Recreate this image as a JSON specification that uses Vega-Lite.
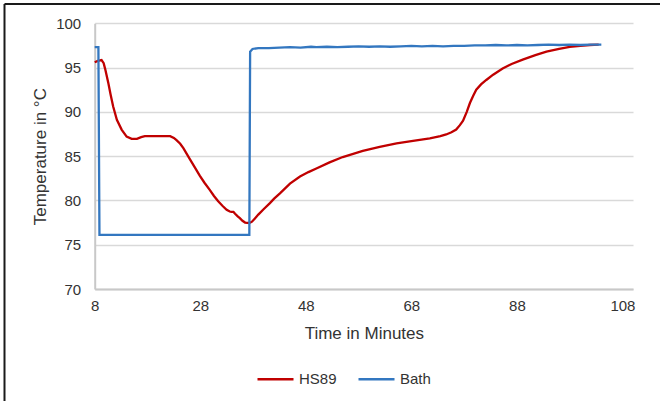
{
  "$schema": "https://vega.github.io/schema/vega-lite/v6.json",
  "width": 655.5,
  "height": 397,
  "autosize": {"type": "none"},
  "padding": {"left": 4.5, "top": 4, "right": 0, "bottom": 0},
  "config": {
    "font": "Liberation Sans",
    "view": {"stroke": "#1a1a1a", "strokeWidth": 2, "strokeDash": [655.5, 1052.5, 397, 0], "fill": "white"},
    "axis": {"labelFont": "Liberation Sans", "titleFont": "Liberation Sans", "labelColor": "#333333", "titleColor": "#333333", "titleFontWeight": "normal"}
  },
  "datasets": {
    "temps": [
      {"t": 8, "T": 95.6, "s": "HS89"},
      {"t": 8.6, "T": 95.75, "s": "HS89"},
      {"t": 9.3, "T": 95.85, "s": "HS89"},
      {"t": 9.7, "T": 95.5, "s": "HS89"},
      {"t": 10.0, "T": 94.8, "s": "HS89"},
      {"t": 10.6, "T": 93.2, "s": "HS89"},
      {"t": 11.0, "T": 92.0, "s": "HS89"},
      {"t": 11.5, "T": 90.6, "s": "HS89"},
      {"t": 12.2, "T": 89.1, "s": "HS89"},
      {"t": 13.1, "T": 88.0, "s": "HS89"},
      {"t": 14.05, "T": 87.2, "s": "HS89"},
      {"t": 15.0, "T": 86.95, "s": "HS89"},
      {"t": 16.0, "T": 86.95, "s": "HS89"},
      {"t": 16.8, "T": 87.15, "s": "HS89"},
      {"t": 17.5, "T": 87.25, "s": "HS89"},
      {"t": 20.0, "T": 87.25, "s": "HS89"},
      {"t": 22.3, "T": 87.25, "s": "HS89"},
      {"t": 23.0, "T": 87.05, "s": "HS89"},
      {"t": 23.5, "T": 86.8, "s": "HS89"},
      {"t": 24.2, "T": 86.4, "s": "HS89"},
      {"t": 24.8, "T": 85.9, "s": "HS89"},
      {"t": 26.0, "T": 84.7, "s": "HS89"},
      {"t": 27.0, "T": 83.7, "s": "HS89"},
      {"t": 27.9, "T": 82.8, "s": "HS89"},
      {"t": 28.8, "T": 82.0, "s": "HS89"},
      {"t": 29.8, "T": 81.2, "s": "HS89"},
      {"t": 30.6, "T": 80.5, "s": "HS89"},
      {"t": 31.4, "T": 79.9, "s": "HS89"},
      {"t": 32.2, "T": 79.4, "s": "HS89"},
      {"t": 33.0, "T": 78.95, "s": "HS89"},
      {"t": 33.6, "T": 78.75, "s": "HS89"},
      {"t": 33.9, "T": 78.7, "s": "HS89"},
      {"t": 34.3, "T": 78.7, "s": "HS89"},
      {"t": 34.6, "T": 78.5, "s": "HS89"},
      {"t": 35.1, "T": 78.2, "s": "HS89"},
      {"t": 35.5, "T": 78.0, "s": "HS89"},
      {"t": 36.0, "T": 77.7, "s": "HS89"},
      {"t": 36.5, "T": 77.5, "s": "HS89"},
      {"t": 37.3, "T": 77.45, "s": "HS89"},
      {"t": 37.8, "T": 77.6, "s": "HS89"},
      {"t": 38.4, "T": 78.0, "s": "HS89"},
      {"t": 39.0, "T": 78.4, "s": "HS89"},
      {"t": 40.0, "T": 79.0, "s": "HS89"},
      {"t": 41.2, "T": 79.7, "s": "HS89"},
      {"t": 42.0, "T": 80.2, "s": "HS89"},
      {"t": 43.1, "T": 80.8, "s": "HS89"},
      {"t": 45.0, "T": 81.9, "s": "HS89"},
      {"t": 46.9, "T": 82.7, "s": "HS89"},
      {"t": 48.5, "T": 83.2, "s": "HS89"},
      {"t": 50.0, "T": 83.6, "s": "HS89"},
      {"t": 52.5, "T": 84.3, "s": "HS89"},
      {"t": 55.0, "T": 84.9, "s": "HS89"},
      {"t": 58.8, "T": 85.6, "s": "HS89"},
      {"t": 62.0, "T": 86.05, "s": "HS89"},
      {"t": 65.2, "T": 86.45, "s": "HS89"},
      {"t": 68.0, "T": 86.7, "s": "HS89"},
      {"t": 71.5, "T": 87.0, "s": "HS89"},
      {"t": 73.5, "T": 87.25, "s": "HS89"},
      {"t": 74.6, "T": 87.45, "s": "HS89"},
      {"t": 75.6, "T": 87.7, "s": "HS89"},
      {"t": 76.5, "T": 88.0, "s": "HS89"},
      {"t": 77.2, "T": 88.5, "s": "HS89"},
      {"t": 77.8, "T": 89.0, "s": "HS89"},
      {"t": 78.5, "T": 90.0, "s": "HS89"},
      {"t": 79.1, "T": 91.0, "s": "HS89"},
      {"t": 79.7, "T": 91.8, "s": "HS89"},
      {"t": 80.3, "T": 92.5, "s": "HS89"},
      {"t": 81.2, "T": 93.1, "s": "HS89"},
      {"t": 82.2, "T": 93.6, "s": "HS89"},
      {"t": 83.5, "T": 94.2, "s": "HS89"},
      {"t": 85.3, "T": 94.9, "s": "HS89"},
      {"t": 87.0, "T": 95.4, "s": "HS89"},
      {"t": 89.1, "T": 95.9, "s": "HS89"},
      {"t": 91.5, "T": 96.4, "s": "HS89"},
      {"t": 93.6, "T": 96.8, "s": "HS89"},
      {"t": 96.0, "T": 97.1, "s": "HS89"},
      {"t": 98.0, "T": 97.35, "s": "HS89"},
      {"t": 100.0, "T": 97.45, "s": "HS89"},
      {"t": 101.8, "T": 97.55, "s": "HS89"},
      {"t": 103.5, "T": 97.6, "s": "HS89"},
      {"t": 8, "T": 97.3, "s": "Bath"},
      {"t": 8.7, "T": 97.3, "s": "Bath"},
      {"t": 8.9, "T": 76.1, "s": "Bath"},
      {"t": 37.3, "T": 76.1, "s": "Bath"},
      {"t": 37.45, "T": 96.8, "s": "Bath"},
      {"t": 37.9, "T": 97.1, "s": "Bath"},
      {"t": 39, "T": 97.2, "s": "Bath"},
      {"t": 41, "T": 97.2, "s": "Bath"},
      {"t": 43, "T": 97.25, "s": "Bath"},
      {"t": 45, "T": 97.3, "s": "Bath"},
      {"t": 47, "T": 97.25, "s": "Bath"},
      {"t": 49, "T": 97.35, "s": "Bath"},
      {"t": 50, "T": 97.3, "s": "Bath"},
      {"t": 52, "T": 97.35, "s": "Bath"},
      {"t": 54, "T": 97.3, "s": "Bath"},
      {"t": 56, "T": 97.35, "s": "Bath"},
      {"t": 58, "T": 97.4, "s": "Bath"},
      {"t": 60, "T": 97.35, "s": "Bath"},
      {"t": 62, "T": 97.4, "s": "Bath"},
      {"t": 64, "T": 97.35, "s": "Bath"},
      {"t": 66, "T": 97.4, "s": "Bath"},
      {"t": 68, "T": 97.45, "s": "Bath"},
      {"t": 70, "T": 97.4, "s": "Bath"},
      {"t": 72, "T": 97.45, "s": "Bath"},
      {"t": 74, "T": 97.4, "s": "Bath"},
      {"t": 76, "T": 97.45, "s": "Bath"},
      {"t": 78, "T": 97.45, "s": "Bath"},
      {"t": 80, "T": 97.5, "s": "Bath"},
      {"t": 82, "T": 97.5, "s": "Bath"},
      {"t": 84, "T": 97.55, "s": "Bath"},
      {"t": 86, "T": 97.5, "s": "Bath"},
      {"t": 88, "T": 97.55, "s": "Bath"},
      {"t": 90, "T": 97.5, "s": "Bath"},
      {"t": 92, "T": 97.55, "s": "Bath"},
      {"t": 94, "T": 97.6, "s": "Bath"},
      {"t": 96, "T": 97.55, "s": "Bath"},
      {"t": 98, "T": 97.6, "s": "Bath"},
      {"t": 100, "T": 97.55, "s": "Bath"},
      {"t": 102, "T": 97.6, "s": "Bath"},
      {"t": 104, "T": 97.6, "s": "Bath"}
    ]
  },
  "data": {"name": "temps"},
  "mark": {"type": "line", "strokeWidth": 2.3, "interpolate": "linear"},
  "encoding": {
    "x": {
      "field": "t",
      "type": "quantitative",
      "scale": {"domain": [8, 110], "range": [90.2, 628.5], "nice": false, "zero": false},
      "axis": {
        "values": [8, 28, 48, 68, 88, 108],
        "grid": false,
        "ticks": false,
        "tickSize": 0,
        "domainColor": "#C8C8C8",
        "domainWidth": 2,
        "labelFontSize": 15,
        "labelPadding": 9,
        "labelFlush": false,
        "labelOverlap": false,
        "title": "Time in Minutes",
        "titleFontSize": 17,
        "titlePadding": 12,
        "offset": -112
      }
    },
    "y": {
      "field": "T",
      "type": "quantitative",
      "scale": {"domain": [70, 100], "range": [285, 19.3], "nice": false, "zero": false},
      "axis": {
        "values": [70, 75, 80, 85, 90, 95, 100],
        "grid": true,
        "gridColor": "#D9D9D9",
        "gridWidth": 1.5,
        "ticks": false,
        "tickSize": 0,
        "domainColor": "#C8C8C8",
        "domainWidth": 2,
        "labelFontSize": 15,
        "labelPadding": 14,
        "title": "Temperature in °C",
        "titleFontSize": 17,
        "titlePadding": 6,
        "offset": -90.2
      }
    },
    "color": {
      "field": "s",
      "type": "nominal",
      "sort": ["HS89", "Bath"],
      "scale": {"domain": ["HS89", "Bath"], "range": ["#C00000", "#3377C0"]},
      "legend": {
        "title": null,
        "orient": "none",
        "direction": "horizontal",
        "legendX": 251.5,
        "legendY": 355.5,
        "padding": 0,
        "symbolType": "stroke",
        "symbolSize": 1296,
        "symbolStrokeWidth": 2.5,
        "labelFontSize": 15,
        "labelColor": "#333333",
        "labelOffset": 4,
        "columnPadding": 16
      }
    },
    "order": {"field": "t", "type": "quantitative"}
  }
}
